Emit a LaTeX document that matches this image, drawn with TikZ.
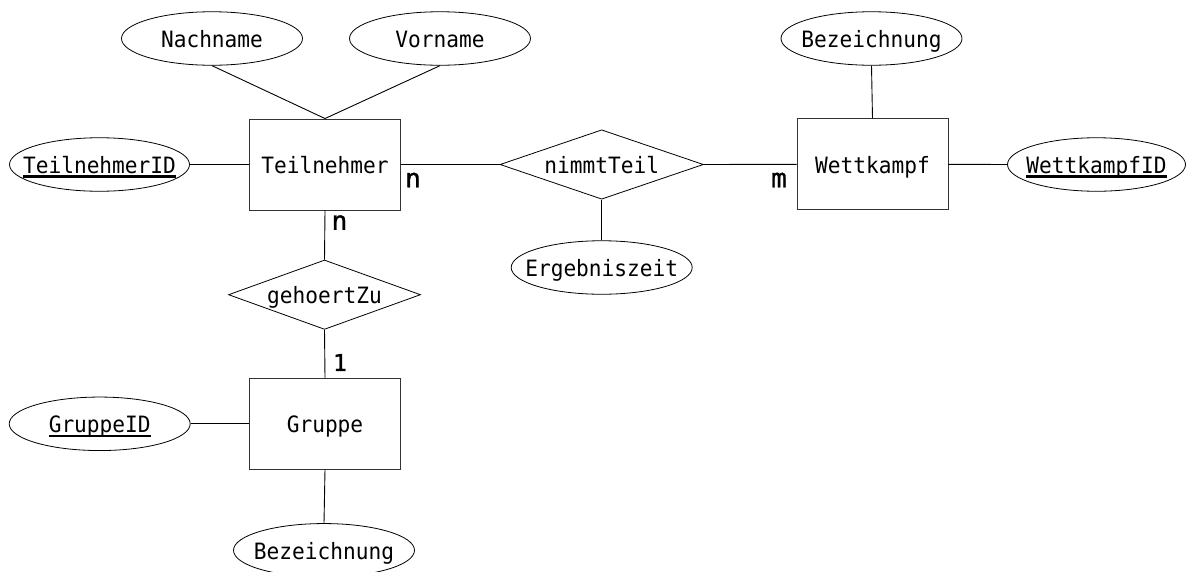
\documentclass[tikz,border=0pt]{standalone}
\usepackage{fontspec}
\usetikzlibrary{shapes.geometric}
\newfontfamily\erfont[FakeStretch=0.94]{DejaVu Sans Mono}
\newfontfamily\erlabfont[FakeBold=1.2]{DejaVu Sans Mono}
\newcommand\keyattr[1]{\setbox0\hbox{#1}\rlap{\rule[-4pt]{\wd0}{2.2pt}}\box0}
\newcommand\zw[1]{\makebox[0pt]{#1}}
\tikzset{
  ertext/.style={font=\erfont\fontsize{22.5pt}{27pt}\selectfont, text height=18pt, text depth=0pt, inner sep=0pt},
  entity/.style={ertext, draw=black!80, line width=0.9pt, rectangle, minimum width=151pt, minimum height=91pt},
  attr/.style={ertext, draw=black, line width=0.8pt, ellipse, minimum width=181pt, minimum height=53.5pt},
  relation/.style={ertext, draw=black, line width=0.8pt, diamond, minimum height=69.4pt},
  conn/.style={draw=black, line width=0.9pt},
  card/.style={font=\erlabfont\fontsize{26pt}{30pt}\selectfont, inner sep=0pt},
  cardone/.style={font=\erlabfont\fontsize{23pt}{27pt}\selectfont, inner sep=0pt}
}
\begin{document}
\begin{tikzpicture}[x=1pt,y=-1pt]
\useasboundingbox (0,0) rectangle (1186,571);
% entities
\node[entity] (teil) at (325,164.5) {Teilnehmer};
\node[entity] (wett) at (872.5,164.3) {Wettkampf};
\node[entity] (grp) at (325,423.8) {Gruppe};
% relations
\node[relation, minimum width=203.4pt] (nimmt) at (601.7,164.5) {\zw{nimmtTeil}};
\node[relation, minimum width=192pt] (gehoert) at (324.5,294.7) {\zw{gehoertZu}};
% attributes
\node[attr] (nach) at (212,38.5) {\zw{Nachname}};
\node[attr] (vor) at (440,38.5) {\zw{Vorname}};
\node[attr, minimum width=180pt] (tid) at (99.5,164.5) {\zw{\keyattr{TeilnehmerID}}};
\node[attr] (erg) at (601.7,267.5) {\zw{Ergebniszeit}};
\node[attr] (bezw) at (871.5,38.5) {\zw{Bezeichnung}};
\node[attr, minimum width=178pt] (wid) at (1096.5,164.5) {\zw{\keyattr{WettkampfID}}};
\node[attr] (gid) at (99.7,423.8) {\zw{\keyattr{GruppeID}}};
\node[attr] (bezg) at (324,550.3) {\zw{Bezeichnung}};
% connectors
\draw[conn] (nach.south) -- (teil.north);
\draw[conn] (vor.south) -- (teil.north);
\draw[conn] (tid.east) -- (teil.west);
\draw[conn] (teil.east) -- (nimmt.west);
\draw[conn] (nimmt.east) -- (wett.west);
\draw[conn] (nimmt.south) -- (erg.north);
\draw[conn] (bezw.south) -- (wett.north);
\draw[conn] (wett.east) -- (wid.west);
\draw[conn] (teil.south) -- (gehoert.north);
\draw[conn] (gehoert.south) -- (grp.north);
\draw[conn] (gid.east) -- (grp.west);
\draw[conn] (grp.south) -- (bezg.north);
% cardinalities
\node[card] (cn1) at (413,180) {n};
\node[card] (cm) at (779,180) {m};
\node[card] (cn2) at (339.5,222.5) {n};
\node[cardone] (c1) at (340,362.5) {1};
\end{tikzpicture}
\end{document}
